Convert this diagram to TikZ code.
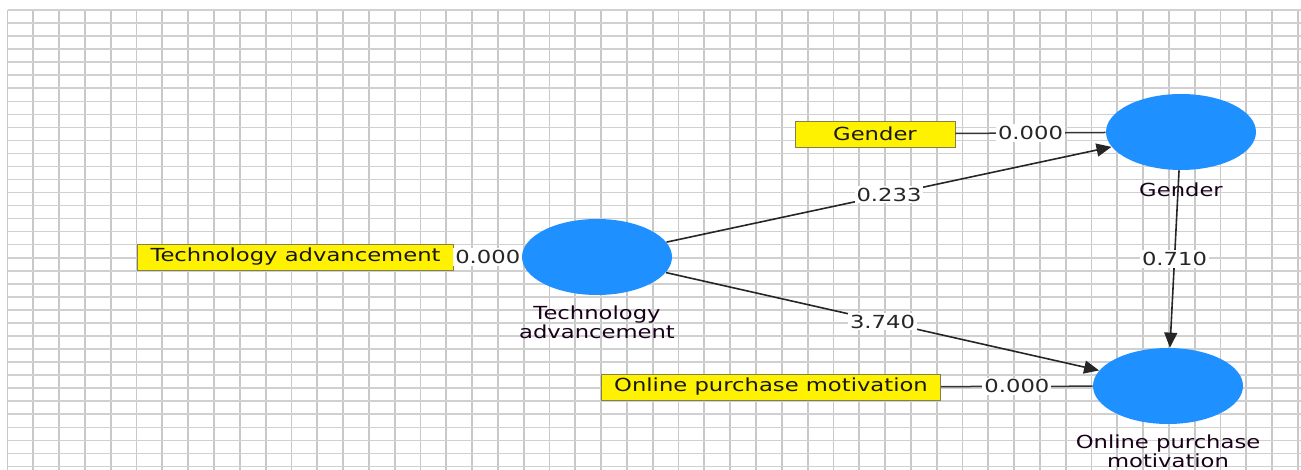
\documentclass[tikz,border=0pt]{standalone}
\usepackage{fontspec}
\setmainfont{DejaVu Sans}[FakeStretch=1.26]
\usetikzlibrary{arrows.meta,positioning,shapes.geometric}
\definecolor{lvblue}{RGB}{30,144,255}
\definecolor{gridgray}{RGB}{200,200,200}

\begin{document}
\begin{tikzpicture}[x=0.5pt,y=-0.5pt,
font=\fontsize{9}{8}\selectfont,
lv/.style={ellipse,fill=lvblue,minimum width=75pt,minimum height=38pt,inner sep=0pt},
ind/.style={rectangle,fill=yellow,draw=yellow!45!black,line width=0.4pt,minimum width=80pt,minimum height=13pt,inner xsep=6.5pt,inner ysep=0pt,text=black!90},
lvname/.style={align=center,text=black!75!violet!80!black,inner sep=1pt},
gridv/.style={draw=gridgray,line width=0.9pt},
gridh/.style={draw=gridgray!85,line width=0.75pt},
pathc/.style={draw=black!85,line width=0.8pt,-{Triangle[length=7.5pt,width=6.5pt]}},
load/.style={draw=black!80,line width=0.75pt},
coef/.style={fill=white,inner sep=1pt,text=black!85}]
\useasboundingbox (0,0) rectangle (1301,470);
\foreach \i in {0,...,50} \draw[gridv] ({7.5+25.81*\i},10) -- ({7.5+25.81*\i},470);
\foreach \j in {0,...,35} \draw[gridh] (7.5,{10+13.04*\j}) -- (1301,{10+13.04*\j});
\node[lv,label={[lvname,label distance=4pt]below:{Technology\\advancement}}] (TA) at (597,257) {};
\node[lv,label={[lvname,label distance=5pt]below:Gender}] (G) at (1181,132) {};
\node[lv,label={[lvname,label distance=4pt]below:{Online purchase\\motivation}}] (OPM) at (1168,386) {};
\node[ind] (bTA) at (295.5,257) {Technology advancement};
\node[ind] (bG) at (875,134) {Gender};
\node[ind] (bOPM) at (771,387) {Online purchase motivation};
\draw[load] (bTA) -- node[coef] {0.000} (TA);
\draw[load] (bG) -- node[coef] {0.000} (G);
\draw[load] (bOPM) -- node[coef] {0.000} (OPM);
\draw[pathc] (TA) -- node[coef] {0.233} (G);
\draw[pathc] (TA) -- node[coef] {3.740} (OPM);
\draw[pathc] (G) -- node[coef] {0.710} (OPM);
\end{tikzpicture}
\end{document}
